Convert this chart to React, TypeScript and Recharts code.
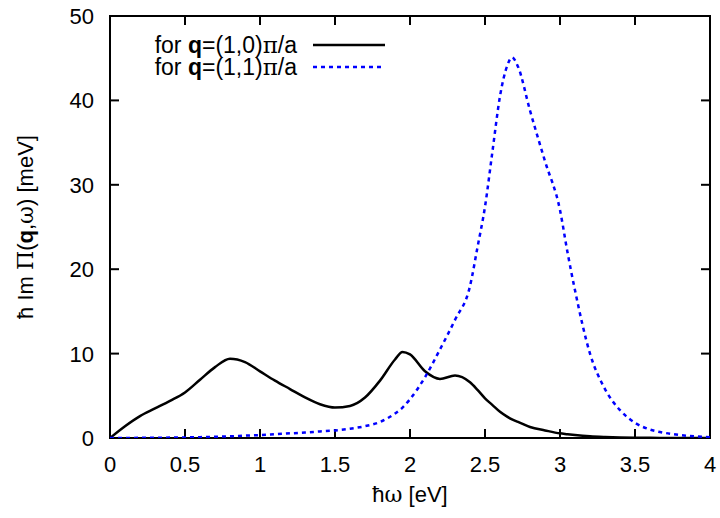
import {
  LineChart,
  Line,
  XAxis,
  YAxis,
  Label,
  ReferenceArea,
  ReferenceLine,
} from "recharts";

// photon energy grid (eV)
const omega = [
  0, 0.1, 0.2, 0.3, 0.4, 0.5, 0.6, 0.7, 0.8, 0.9, 1.0, 1.1, 1.2, 1.3, 1.4, 1.5,
  1.6, 1.7, 1.8, 1.9, 1.95, 2.0, 2.1, 2.2, 2.3, 2.4, 2.45, 2.5, 2.55, 2.6, 2.65,
  2.68, 2.72, 2.8, 2.9, 3.0, 3.05, 3.1, 3.2, 3.3, 3.4, 3.5, 3.6, 3.7, 3.8, 3.9,
  4.0,
];

// Im Pi for q=(1,0)pi/a  [meV]
const imPiQ10 = [
  0, 1.4, 2.6, 3.5, 4.4, 5.4, 6.9, 8.4, 9.4, 9.0, 7.9, 6.8, 5.8, 4.8, 4.0, 3.6,
  3.8, 4.8, 6.8, 9.3, 10.2, 9.9, 7.9, 7.0, 7.4, 6.6, 5.7, 4.7, 3.9, 3.1, 2.5,
  2.2, 1.9, 1.3, 0.9, 0.55, 0.45, 0.35, 0.2, 0.12, 0.07, 0.04, 0.02, 0.01, 0, 0,
  0,
];

// Im Pi for q=(1,1)pi/a  [meV]
const imPiQ11 = [
  0, 0, 0.02, 0.03, 0.05, 0.07, 0.1, 0.15, 0.2, 0.28, 0.35, 0.45, 0.55, 0.65,
  0.78, 0.9, 1.1, 1.4, 1.9, 2.9, 3.6, 4.6, 7.2, 10.5, 14.0, 18.0, 22.6, 27.4,
  34.0, 40.5, 44.2, 45.1, 44.0, 38.8, 32.8, 27.0, 22.0, 17.5, 10.0, 5.8, 3.3,
  1.8, 1.0, 0.6, 0.35, 0.2, 0.1,
];

const xTicks = [0, 0.5, 1, 1.5, 2, 2.5, 3, 3.5, 4];
const yTicks = [0, 10, 20, 30, 40, 50];
const X_MAX = 4;
const Y_MAX = 50;

const series = [
  { key: "q10", vec: "(1,0)", color: "#000000", dash: undefined as string | undefined },
  { key: "q11", vec: "(1,1)", color: "#0000ff", dash: "4 4" },
];

const data = omega.map((w, i) => ({
  w,
  q10: imPiQ10[i],
  q11: imPiQ11[i],
}));

const FONT = "'Liberation Sans', Arial, Helvetica, sans-serif";
const GREEK = "'DejaVu Serif', 'Liberation Serif', serif";

// plot box is 600 x 422 px; gnuplot-style inward ticks ~9px long
const PLOT_W = 600;
const PLOT_H = 422;
const TICK_PX = 9;
const tickDx = (TICK_PX / PLOT_W) * X_MAX;
const tickDy = (TICK_PX / PLOT_H) * Y_MAX;

const BottomTick = (props: any) => {
  const { x, y, payload } = props;
  return (
    <text x={x} y={y + 34} textAnchor="middle" fontSize={22} fontFamily={FONT} fill="#000">
      {String(payload.value)}
    </text>
  );
};

const LeftTick = (props: any) => {
  const { x, y, payload } = props;
  return (
    <text x={x - 16} y={y + 8} textAnchor="end" fontSize={22} fontFamily={FONT} fill="#000">
      {String(payload.value)}
    </text>
  );
};

const YLabel = (props: any) => {
  const { viewBox } = props;
  const cx = 25;
  const cy = viewBox.y + viewBox.height / 2;
  return (
    <text
      x={cx}
      y={cy}
      transform={`rotate(-90, ${cx}, ${cy})`}
      textAnchor="middle"
      dominantBaseline="central"
      fontSize={22}
      fontFamily={FONT}
      fill="#000"
    >
      ħ Im <tspan fontFamily={GREEK}>Π</tspan>(<tspan fontWeight="bold">q</tspan>,
      <tspan fontFamily={GREEK}>ω</tspan>) [meV]
    </text>
  );
};

const XLabel = (props: any) => {
  const { viewBox } = props;
  const cx = viewBox.x + viewBox.width / 2;
  return (
    <text x={cx} y={viewBox.y + 64} textAnchor="middle" fontSize={22} fontFamily={FONT} fill="#000">
      ħ<tspan fontFamily={GREEK}>ω</tspan> [eV]
    </text>
  );
};

function LegendBox() {
  return (
    <>
      {series.map((s, i) => (
        <div
          key={s.key}
          style={{
            position: "absolute",
            left: 120,
            top: 34 + i * 22,
            height: 22,
            display: "flex",
            alignItems: "center",
            fontFamily: FONT,
            fontSize: 23,
            lineHeight: "22px",
          }}
        >
          <span style={{ width: 177, textAlign: "right", whiteSpace: "nowrap", lineHeight: "22px" }}>
            for <b>q</b>={s.vec}
            <span style={{ fontFamily: GREEK }}>π</span>/a
          </span>
          <svg width={90} height={22} style={{ display: "block" }}>
            <line
              x1={16}
              x2={88}
              y1={11}
              y2={11}
              stroke={s.color}
              strokeWidth={2.5}
              strokeDasharray={s.dash}
            />
          </svg>
        </div>
      ))}
    </>
  );
}

export default function App() {
  return (
    <div style={{ position: "absolute", left: 0, top: 0, width: 720, height: 518, background: "#fff" }}>
      <LineChart
        width={720}
        height={518}
        data={data}
        margin={{ top: 16, right: 10, bottom: 0, left: 0 }}
      >
        <XAxis
          dataKey="w"
          type="number"
          domain={[0, X_MAX]}
          allowDataOverflow
          ticks={xTicks}
          interval={0}
          height={80}
          tickSize={0}
          tickMargin={0}
          tickLine={false}
          axisLine={false}
          tick={<BottomTick />}
        >
          <Label content={<XLabel />} />
        </XAxis>
        <YAxis
          type="number"
          domain={[0, Y_MAX]}
          allowDataOverflow
          ticks={yTicks}
          interval={0}
          width={110}
          tickSize={0}
          tickMargin={0}
          tickLine={false}
          axisLine={false}
          tick={<LeftTick />}
        >
          <Label content={<YLabel />} />
        </YAxis>

        {/* inward tick marks on all four sides */}
        {xTicks.map((v) => (
          <ReferenceLine
            key={`xb${v}`}
            segment={[{ x: v, y: 0 }, { x: v, y: tickDy }]}
            stroke="#000"
            strokeWidth={2}
          />
        ))}
        {xTicks.map((v) => (
          <ReferenceLine
            key={`xt${v}`}
            segment={[{ x: v, y: Y_MAX }, { x: v, y: Y_MAX - tickDy }]}
            stroke="#000"
            strokeWidth={2}
          />
        ))}
        {yTicks.map((v) => (
          <ReferenceLine
            key={`yl${v}`}
            segment={[{ x: 0, y: v }, { x: tickDx, y: v }]}
            stroke="#000"
            strokeWidth={2}
          />
        ))}
        {yTicks.map((v) => (
          <ReferenceLine
            key={`yr${v}`}
            segment={[{ x: X_MAX, y: v }, { x: X_MAX - tickDx, y: v }]}
            stroke="#000"
            strokeWidth={2}
          />
        ))}

        {series.map((s) => (
          <Line
            key={s.key}
            type="monotone"
            dataKey={s.key}
            stroke={s.color}
            strokeWidth={2.5}
            strokeDasharray={s.dash}
            dot={false}
            activeDot={false}
            isAnimationActive={false}
          />
        ))}

        <ReferenceArea
          x1={0}
          x2={X_MAX}
          y1={0}
          y2={Y_MAX}
          fill="none"
          fillOpacity={0}
          stroke="#000"
          strokeWidth={2}
          ifOverflow="visible"
        />
      </LineChart>
      <LegendBox />
    </div>
  );
}
